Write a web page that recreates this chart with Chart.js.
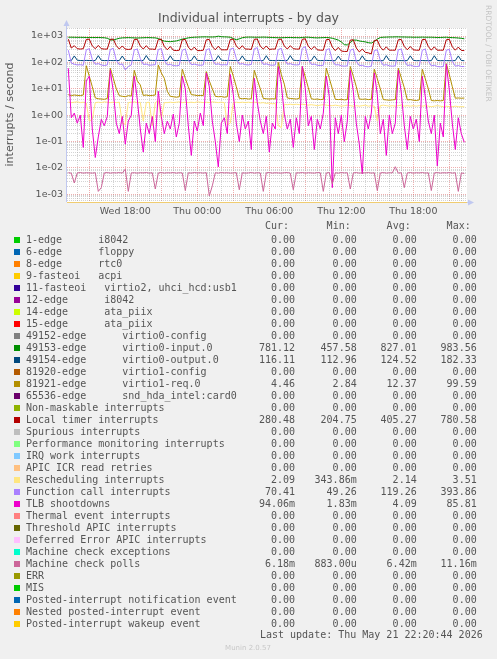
<!DOCTYPE html>
<html>
<head>
<meta charset="utf-8">
<script src="https://cdn.jsdelivr.net/npm/chart.js@4"></script>
<style>
  html, body { margin: 0; padding: 0; background: #f0f0f0; }
  canvas { display: block; }
</style>
</head>
<body>
<canvas id="myChart" width="497" height="659"></canvas>
<script>
// time axis, hours since Wed 00:00 (one sample every 15 min)
const xMin = 13.142, xMax = 46.475;
const xTickHours = [18, 24, 30, 36, 42];
const xTickLabels = ['Wed 18:00', 'Thu 00:00', 'Thu 06:00', 'Thu 12:00', 'Thu 18:00'];
const yMin = 0.000515, yMax = 2010;
const yTickValues = [0.001, 0.01, 0.1, 1, 10, 100, 1000];
const yTickLabels = ['1e-03', '1e-02', '1e-01', '1e+00', '1e+01', '1e+02', '1e+03'];

// 49153-edge virtio0-input.0
const virtio0Input = [
  900,900,895,890,890,885,880,880,
  880,875,880,870,860,820,720,700,
  760,820,850,860,870,860,850,840,
  850,860,870,870,860,850,800,700,
  640,620,610,630,650,700,760,800,
  850,880,900,910,920,930,930,920,
  920,930,984,940,930,920,900,800,
  720,780,860,900,910,910,900,900,
  900,910,900,890,880,870,860,860,
  870,880,880,870,870,860,880,900,
  900,880,860,850,860,870,880,860,
  820,760,700,600,470,458,560,700,
  700,650,620,600,560,540,620,760,
  880,900,910,920,920,930,930,920,
  920,910,910,900,900,900,910,900,
  900,900,890,880,880,890,900,880,
  870,860,840,820,781];

// 49154-edge virtio0-output.0
const virtio0Output = [
  118,117,176,121,118,117,119,118,
  117,118,180,120,117,118,118,117,
  118,117,175,119,118,117,118,119,
  117,118,182,121,118,117,119,118,
  118,117,178,120,117,118,118,117,
  117,118,176,119,118,117,119,118,
  118,117,180,121,118,118,119,118,
  117,118,177,120,117,118,118,117,
  118,117,179,119,118,117,119,118,
  117,118,181,121,118,117,118,117,
  118,117,176,120,117,118,119,118,
  117,116,174,119,117,116,118,117,
  116,117,178,120,116,117,118,116,
  117,116,180,119,117,116,117,117,
  116,117,177,120,116,117,118,116,
  117,116,179,119,116,117,117,116,
  116,117,176,118,116.11];

// 81921-edge virtio1-req.0
const virtio1Req = [
  6,5.5,5.8,5.6,5.5,5.8,75,30,
  12,4.5,4.2,4.1,4.0,4.3,60,25,
  10,5.5,5.2,5.0,5.5,5.3,50,20,
  14,5.6,5.8,5.5,5.6,5.8,80,40,
  25,8,5.2,5.0,4.8,5.0,55,25,
  12,6,5.8,5.5,5.6,5.5,45,20,
  10,5.2,5.0,5.1,4.8,5.0,70,30,
  12,4.4,4.2,4.3,4.1,4.2,50,22,
  10,4.3,4.2,4.1,4.2,4.1,99.6,35,
  15,4.5,4.3,4.2,4.1,4.3,70,28,
  11,4.2,4.0,4.1,3.9,4.0,60,25,
  10,4.0,3.9,4.0,3.8,3.9,70,30,
  12,4.1,4.0,4.1,3.9,4.0,55,24,
  10,3.9,3.8,3.7,3.8,3.9,60,26,
  11,3.8,3.9,3.7,3.6,3.8,55,24,
  10,3.6,3.5,3.6,3.5,3.6,90,35,
  12,4.4,4.5,4.4,4.46];

// Local timer interrupts
const localTimer = [
  760,350,430,330,320,330,740,760,
  420,330,440,330,320,320,750,760,
  430,320,420,320,310,320,740,750,
  420,320,430,320,320,310,740,760,
  400,300,400,290,280,290,720,740,
  380,290,380,280,280,290,720,740,
  400,300,410,300,300,300,740,760,
  420,320,430,320,320,310,750,770,
  410,320,420,310,320,320,740,760,
  420,320,430,330,320,320,750,780,
  410,310,400,300,290,290,730,740,
  380,280,370,270,260,260,700,720,
  350,250,320,240,230,210,680,700,
  380,290,390,290,290,290,720,740,
  400,300,400,300,290,290,730,750,
  400,290,390,290,290,290,720,750,
  390,290,380,285,280];

// Rescheduling interrupts
const rescheduling = [
  3.1,3.0,3.1,3.2,3.0,3.1,2.9,0.6,
  0.7,3.0,3.1,3.0,3.2,3.1,3.0,3.1,
  3.0,3.1,0.5,0.45,3.0,3.1,3.2,3.0,
  3.1,0.6,3.0,3.1,0.4,3.0,3.5,0.7,
  3.0,3.0,3.1,3.0,3.1,3.2,3.0,3.1,
  3.0,3.1,3.0,3.2,3.1,3.0,3.1,3.0,
  3.2,3.1,3.0,3.1,3.0,0.43,0.5,3.0,
  3.1,3.0,3.1,3.0,3.1,3.0,3.1,3.0,
  2.9,3.0,2.8,2.9,2.7,2.8,0.4,0.34,
  2.6,2.5,2.6,2.5,2.6,2.5,2.6,2.5,
  2.4,2.5,2.4,2.3,2.4,2.5,2.4,2.3,
  2.3,2.4,2.3,2.2,2.3,2.4,2.3,2.2,
  2.3,2.2,2.3,2.4,2.2,2.3,2.2,0.6,
  2.3,2.4,2.3,2.2,2.3,2.2,2.3,2.4,
  2.2,2.3,2.2,2.3,2.2,2.3,2.2,2.3,
  2.2,2.1,2.2,2.3,2.2,2.1,2.2,2.1,
  2.1,2.2,2.1,2.1,2.09];

// Function call interrupts
const functionCall = [
  290,95,85,80,82,78,300,330,
  130,85,90,80,76,80,310,340,
  120,82,88,52,70,80,300,320,
  140,84,86,78,80,82,310,330,
  120,80,84,76,74,78,290,320,
  125,82,86,80,78,80,300,330,
  130,84,88,80,82,80,320,350,
  140,85,90,82,80,84,330,360,
  130,84,88,80,78,80,310,340,
  140,86,90,82,80,82,340,394,
  130,84,86,78,76,78,300,330,
  120,80,82,74,72,74,290,320,
  110,76,78,70,68,72,280,300,
  120,78,82,74,72,74,300,320,
  120,76,80,72,70,72,290,320,
  115,74,78,70,68,70,290,310,
  110,72,76,70,70];

// TLB shootdowns
const tlbShootdowns = [
  60,0.8,1.2,0.5,1.0,0.06,20,30,
  0.3,0.025,0.15,0.7,0.4,0.9,50,8,
  0.5,0.2,0.9,0.08,0.6,1.0,30,4,
  0.3,0.04,0.5,0.2,0.9,0.1,8,0.9,
  0.2,0.6,0.3,1.1,0.15,0.5,30,10,
  0.4,0.03,0.6,0.25,1.2,0.4,40,12,
  0.6,0.1,0.011,0.5,0.8,0.2,35,6,
  0.5,0.1,1.0,0.3,0.6,0.05,25,3,
  0.6,0.2,0.9,0.04,0.5,0.3,69,15,
  1.1,0.3,0.7,0.06,0.8,0.2,70,10,
  0.4,0.9,0.05,0.7,0.3,1.2,30,5,
  0.0018,0.8,0.2,1.0,0.1,0.6,50,8,
  0.5,0.08,0.006,0.9,0.3,1.2,40,6,
  0.2,0.7,0.03,1.0,0.2,0.5,50,7,
  0.4,0.05,0.9,0.3,0.7,0.1,30,5,
  0.6,0.2,1.0,0.012,0.5,0.15,86,9,
  0.5,0.05,0.8,0.2,0.094];

// Machine check polls
const machineCheckPolls = [
  .0066,.0064,.0027,.0065,.0067,.0064,.0066,.0065,
  .0064,.0066,.0013,.0018,.0065,.0067,.0064,.0066,
  .0065,.0067,.0064,.0090,.0013,.0065,.0066,.0064,
  .0066,.0065,.0067,.0064,.0066,.0016,.0065,.0067,
  .0064,.0066,.0065,.0067,.0064,.0066,.0065,.0014,
  .0066,.0064,.0067,.0065,.0066,.0064,.0067,.00088,
  .0021,.0066,.0064,.0067,.0065,.0066,.0064,.0065,
  .0067,.0015,.0066,.0064,.0065,.0067,.0064,.0066,
  .0065,.0013,.0066,.0067,.0064,.0066,.0065,.0064,
  .0066,.0067,.0064,.0015,.0066,.0065,.0067,.0064,
  .0066,.0065,.0064,.0067,.0066,.0013,.0065,.0067,
  .0025,.0066,.0064,.0067,.0065,.0066,.0016,.0065,
  .0067,.0064,.0066,.0065,.0067,.0064,.0066,.0014,
  .0065,.0067,.0064,.0066,.0065,.0112,.0064,.0066,
  .0018,.0065,.0067,.0064,.0066,.0065,.0067,.0064,
  .0066,.0014,.0065,.0067,.0064,.0066,.0065,.0067,
  .0064,.0066,.0013,.0065,.00618];

const legendNames = [
  '1-edge      i8042', '6-edge      floppy', '8-edge      rtc0', '9-fasteoi   acpi',
  '11-fasteoi   virtio2, uhci_hcd:usb1', '12-edge      i8042', '14-edge      ata_piix',
  '15-edge      ata_piix', '49152-edge      virtio0-config', '49153-edge      virtio0-input.0',
  '49154-edge      virtio0-output.0', '81920-edge      virtio1-config', '81921-edge      virtio1-req.0',
  '65536-edge      snd_hda_intel:card0', 'Non-maskable interrupts', 'Local timer interrupts',
  'Spurious interrupts', 'Performance monitoring interrupts', 'IRQ work interrupts',
  'APIC ICR read retries', 'Rescheduling interrupts', 'Function call interrupts', 'TLB shootdowns',
  'Thermal event interrupts', 'Threshold APIC interrupts', 'Deferred Error APIC interrupts',
  'Machine check exceptions', 'Machine check polls', 'ERR', 'MIS',
  'Posted-interrupt notification event', 'Nested posted-interrupt event', 'Posted-interrupt wakeup event'];
const legendColors = [
  '#00CC00', '#0066B3', '#FF8000', '#FFCC00', '#330099', '#990099', '#CCFF00', '#FF0000',
  '#808080', '#008F00', '#00487D', '#B35A00', '#B38F00', '#6B006B', '#8FB300', '#B30000',
  '#BEBEBE', '#80FF80', '#80C9FF', '#FFC080', '#FFE680', '#AA80FF', '#EE00CC', '#FF8080',
  '#666600', '#FFBFFF', '#00FFCC', '#CC6699', '#999900', '#00CC00', '#0066B3', '#FF8000', '#FFCC00'];
const z = '0.00';
const curValues = [z,z,z,z,z,z,z,z,z,'781.12','116.11',z,'4.46',z,z,'280.48',z,z,z,z,'2.09','70.41','94.06m',z,z,z,z,'6.18m',z,z,z,z,z];
const minValues = [z,z,z,z,z,z,z,z,z,'457.58','112.96',z,'2.84',z,z,'204.75',z,z,z,z,'343.86m','49.26','1.83m',z,z,z,z,'883.00u',z,z,z,z,z];
const avgValues = [z,z,z,z,z,z,z,z,z,'827.01','124.52',z,'12.37',z,z,'405.27',z,z,z,z,'2.14','119.26','4.09',z,z,z,z,'6.42m',z,z,z,z,z];
const maxValues = [z,z,z,z,z,z,z,z,z,'983.56','182.33',z,'99.59',z,z,'780.58',z,z,z,z,'3.51','393.86','85.81',z,z,z,z,'11.16m',z,z,z,z,z];

const times = virtio0Input.map((_, i) => 13.25 + i * 0.25);
const seriesByIndex = {9: virtio0Input, 10: virtio0Output, 12: virtio1Req, 15: localTimer,
  20: rescheduling, 21: functionCall, 22: tlbShootdowns, 27: machineCheckPolls};

const datasets = legendNames.map((name, i) => ({
  label: name,
  data: seriesByIndex[i] || times.map(() => 0),
  borderColor: legendColors[i],
  backgroundColor: legendColors[i],
  borderWidth: 1,
  pointRadius: 0,
  tension: 0,
  fill: false,
  order: legendNames.length - i
}));

const majorGrid = 'rgba(225,110,110,0.55)';
const minorGrid = 'rgba(160,160,160,0.45)';
const axisColor = '#c0c8f0';
const isPow10 = v => Math.abs(Math.log10(v) - Math.round(Math.log10(v))) < 1e-9;

const munin = {
  id: 'munin',
  beforeDraw(chart) {
    const c = chart.ctx, a = chart.chartArea;
    c.save();
    c.fillStyle = '#f0f0f0';
    c.fillRect(0, 0, chart.width, chart.height);
    c.fillStyle = '#ffffff';
    c.fillRect(a.left, a.top, a.right - a.left, a.bottom - a.top);
    c.restore();
  },
  beforeDatasetsDraw(chart) {
    const c = chart.ctx, a = chart.chartArea;
    c.save();
    c.strokeStyle = axisColor;
    c.fillStyle = axisColor;
    c.lineWidth = 1;
    c.beginPath();
    c.moveTo(a.left - 0.5, a.bottom);
    c.lineTo(a.left - 0.5, a.top - 4);
    c.moveTo(a.left, a.bottom + 0.5);
    c.lineTo(a.right + 3, a.bottom + 0.5);
    c.stroke();
    c.beginPath();
    c.moveTo(a.left - 0.5, a.top - 8);
    c.lineTo(a.left - 3.5, a.top - 2);
    c.lineTo(a.left + 2.5, a.top - 2);
    c.closePath();
    c.fill();
    c.beginPath();
    c.moveTo(a.right + 7, a.bottom + 0.5);
    c.lineTo(a.right + 1, a.bottom - 2.5);
    c.lineTo(a.right + 1, a.bottom + 3.5);
    c.closePath();
    c.fill();
    // zero-valued series sit on the bottom edge
    c.strokeStyle = '#f0cc70';
    c.beginPath();
    c.moveTo(a.left, a.bottom + 0.5);
    c.lineTo(a.right, a.bottom + 0.5);
    c.stroke();
    c.restore();
  },
  afterDraw(chart) {
    const c = chart.ctx;
    c.save();
    c.fillStyle = '#555';
    c.textBaseline = 'middle';
    c.textAlign = 'center';
    c.font = '12.5px "DejaVu Sans"';
    c.fillText('Individual interrupts - by day', 248.5, 19);

    c.save();
    c.translate(10.5, 114.5);
    c.rotate(-Math.PI / 2);
    c.font = '11px "DejaVu Sans"';
    c.fillText('interrupts / second', 0, 0);
    c.restore();

    c.save();
    c.translate(487.5, 5);
    c.rotate(Math.PI / 2);
    c.textAlign = 'left';
    c.fillStyle = '#c4c4c4';
    c.font = '7.5px "DejaVu Sans"';
    c.fillText('RRDTOOL / TOBI OETIKER', 0, 0);
    c.restore();

    c.font = '10px "DejaVu Sans Mono"';
    c.fillStyle = '#555';
    const colRight = [295, 356.7, 416.7, 476.7];
    const heads = ['Cur:', 'Min:', 'Avg:', 'Max:'];
    c.textAlign = 'right';
    heads.forEach((h, j) => c.fillText(h, colRight[j] - 6, 226.7));
    legendNames.forEach((name, k) => {
      const y = 240 + 12 * k;
      c.fillStyle = legendColors[k];
      c.fillRect(14, y - 3, 6, 6);
      c.fillStyle = '#555';
      c.textAlign = 'left';
      c.fillText(name, 26, y);
      c.textAlign = 'right';
      [curValues, minValues, avgValues, maxValues].forEach((col, j) => c.fillText(col[k], colRight[j], y));
    });
    c.fillText('Last update: Thu May 21 22:20:44 2026', 482.7, 635.7);

    c.textAlign = 'center';
    c.fillStyle = '#c8c8c8';
    c.font = '7px "DejaVu Sans"';
    c.fillText('Munin 2.0.57', 248, 648.5);
    c.restore();
  }
};

Chart.defaults.font.family = '"DejaVu Sans"';
const ctx = document.getElementById('myChart').getContext('2d');

const myChart = new Chart(ctx, {
  type: 'line',
  data: { labels: times, datasets: datasets },
  options: {
    responsive: false,
    animation: false,
    events: [],
    layout: { padding: { left: 0, top: 28, right: 30, bottom: 435 } },
    plugins: { legend: { display: false }, tooltip: { enabled: false }, title: { display: false } },
    scales: {
      x: {
        type: 'linear',
        min: xMin,
        max: xMax,
        bounds: 'data',
        afterBuildTicks: s => {
          s.ticks = [];
          for (let h = 14; h <= 46; h++) s.ticks.push({ value: h });
        },
        afterFit: s => { s.height = 22; },
        grid: { drawTicks: false, lineWidth: 1, color: c => (c.tick && c.tick.value % 3 === 0) ? majorGrid : minorGrid },
        border: { display: false, dash: [1, 1] },
        ticks: {
          autoSkip: false, maxRotation: 0, padding: 4, color: '#555', font: { size: 9.5 },
          callback: v => { const k = xTickHours.indexOf(v); return k < 0 ? '' : xTickLabels[k]; }
        }
      },
      y: {
        type: 'logarithmic',
        min: yMin,
        max: yMax,
        bounds: 'data',
        afterBuildTicks: s => {
          s.ticks = [];
          for (let e = -4; e <= 3; e++) {
            for (let k = 1; k <= 9; k++) {
              const v = k * Math.pow(10, e);
              if (v >= yMin && v <= yMax) s.ticks.push({ value: v });
            }
          }
        },
        afterFit: s => { s.width = 67; },
        grid: { drawTicks: false, lineWidth: 1, color: c => (c.tick && isPow10(c.tick.value)) ? majorGrid : minorGrid },
        border: { display: false, dash: [1, 1] },
        ticks: {
          autoSkip: false, padding: 4, color: '#555', font: { size: 9.5 },
          callback: v => { const k = yTickValues.findIndex(t => Math.abs(t - v) / t < 1e-6); return k < 0 ? '' : yTickLabels[k]; }
        }
      }
    }
  },
  plugins: [munin]
});
</script>
</body>
</html>
